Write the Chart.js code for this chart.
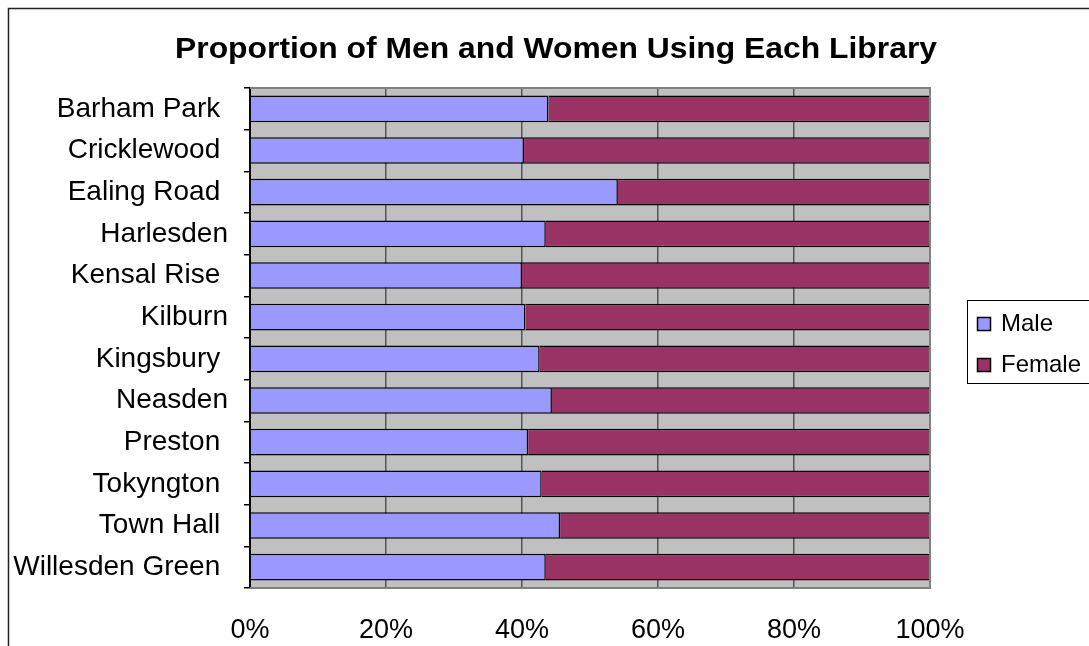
<!DOCTYPE html>
<html>
<head>
<meta charset="utf-8">
<title>Library users by gender</title>
<script src="https://cdn.jsdelivr.net/npm/chart.js@4.4.0/dist/chart.umd.min.js"></script>
<style>
    html, body { margin: 0; padding: 0; background: #fff; overflow: hidden; }
    canvas { display: block; }
</style>
</head>
<body>
<canvas id="libChart" width="1089" height="646"></canvas>
<script>
// ---------- data ----------
const libraries = [
    'Barham Park ', 'Cricklewood ', 'Ealing Road ', 'Harlesden', 'Kensal Rise ', 'Kilburn',
    'Kingsbury ', 'Neasden', 'Preston ', 'Tokyngton ', 'Town Hall ', 'Willesden Green '
];
const malePct   = [43.9, 40.3, 54.1, 43.5, 40.0, 40.5, 42.6, 44.4, 40.9, 42.9, 45.6, 43.5];
const femalePct = [56.1, 59.7, 45.9, 56.5, 60.0, 59.5, 57.4, 55.6, 59.1, 57.1, 54.4, 56.5];
const xTicks = [0, 20, 40, 60, 80, 100];

const TITLE = 'Proportion of Men and Women Using Each Library';
const MALE_COLOR = '#9999FF';
const FEMALE_COLOR = '#993366';
const FONT = 'Liberation Sans, Arial, sans-serif';

// grey plot background + white page
const backdrop = {
    id: 'backdrop',
    beforeDraw(chart) {
        const { ctx, chartArea: a } = chart;
        ctx.save();
        ctx.fillStyle = '#fff';
        ctx.fillRect(0, 0, chart.width, chart.height);
        ctx.fillStyle = '#C0C0C0';
        ctx.fillRect(a.left, a.top, a.right - a.left, a.bottom - a.top);
        ctx.restore();
    }
};

// title (slightly stretched, like the spreadsheet export), frames and legend box
const frame = {
    id: 'frame',
    afterDraw(chart) {
        const { ctx, chartArea: a } = chart;
        ctx.save();

        // title
        ctx.font = 'bold 29px ' + FONT;
        ctx.fillStyle = '#000';
        ctx.textAlign = 'center';
        ctx.textBaseline = 'alphabetic';
        const w = ctx.measureText(TITLE).width;
        ctx.save();
        ctx.translate(556, 58);
        ctx.scale(762 / w, 1);
        ctx.fillText(TITLE, 0, 0);
        ctx.restore();

        // plot border (left side is the axis line)
        ctx.strokeStyle = '#808080';
        ctx.lineWidth = 2;
        ctx.beginPath();
        ctx.moveTo(a.left, a.top);
        ctx.lineTo(a.right, a.top);
        ctx.lineTo(a.right, a.bottom);
        ctx.lineTo(a.left, a.bottom);
        ctx.stroke();

        // outer chart frame
        ctx.strokeStyle = '#222';
        ctx.lineWidth = 1.5;
        ctx.beginPath();
        ctx.moveTo(8.5, chart.height + 2);
        ctx.lineTo(8.5, 8.5);
        ctx.lineTo(chart.width + 2, 8.5);
        ctx.stroke();

        // legend
        ctx.strokeStyle = '#000';
        ctx.lineWidth = 1;
        ctx.strokeRect(967.5, 300.5, 140, 83);
        ctx.font = '24px ' + FONT;
        ctx.textBaseline = 'middle';
        ctx.textAlign = 'left';
        chart.data.datasets.forEach((ds, i) => {
            const y = 317 + i * 41;
            ctx.fillStyle = ds.backgroundColor;
            ctx.fillRect(977, y, 14, 14);
            ctx.strokeStyle = '#000';
            ctx.lineWidth = 1.5;
            ctx.strokeRect(977.5, y + 0.5, 13, 13);
            ctx.fillStyle = '#000';
            ctx.fillText(ds.label, 1001, y + 7);
        });
        ctx.restore();
    }
};

new Chart(document.getElementById('libChart'), {
    type: 'bar',
    data: {
        labels: libraries,
        datasets: [
            { label: 'Male', data: malePct, backgroundColor: MALE_COLOR, borderColor: '#000', borderWidth: 1.5 },
            { label: 'Female', data: femalePct, backgroundColor: FEMALE_COLOR, borderColor: '#000', borderWidth: 1.5 }
        ]
    },
    options: {
        indexAxis: 'y',
        responsive: false,
        devicePixelRatio: 1,
        animation: false,
        layout: { padding: { left: 0, right: 159, top: 88, bottom: 0 } },
        datasets: { bar: { categoryPercentage: 0.8, barPercentage: 0.8 } },
        plugins: {
            legend: { display: false },
            tooltip: { enabled: false },
            title: { display: false }
        },
        scales: {
            x: {
                stacked: true,
                min: 0,
                max: 100,
                afterBuildTicks(axis) { axis.ticks = xTicks.map(v => ({ value: v })); },
                afterFit(axis) { axis.height = 58; },
                ticks: {
                    color: '#000',
                    font: { family: FONT, size: 27 },
                    padding: 26,
                    maxRotation: 0,
                    callback: v => v + '%'
                },
                grid: { color: '#555', lineWidth: 1.5, drawTicks: false },
                border: { display: false }
            },
            y: {
                stacked: true,
                afterFit(axis) { axis.width = 250; },
                ticks: {
                    color: '#000',
                    font: { family: FONT, size: 28 },
                    padding: 16,
                    autoSkip: false
                },
                grid: { drawOnChartArea: false, drawTicks: true, tickLength: 6, color: '#000', lineWidth: 1.5 },
                border: { color: '#000', width: 2 }
            }
        }
    },
    plugins: [backdrop, frame]
});
</script>
</body>
</html>
